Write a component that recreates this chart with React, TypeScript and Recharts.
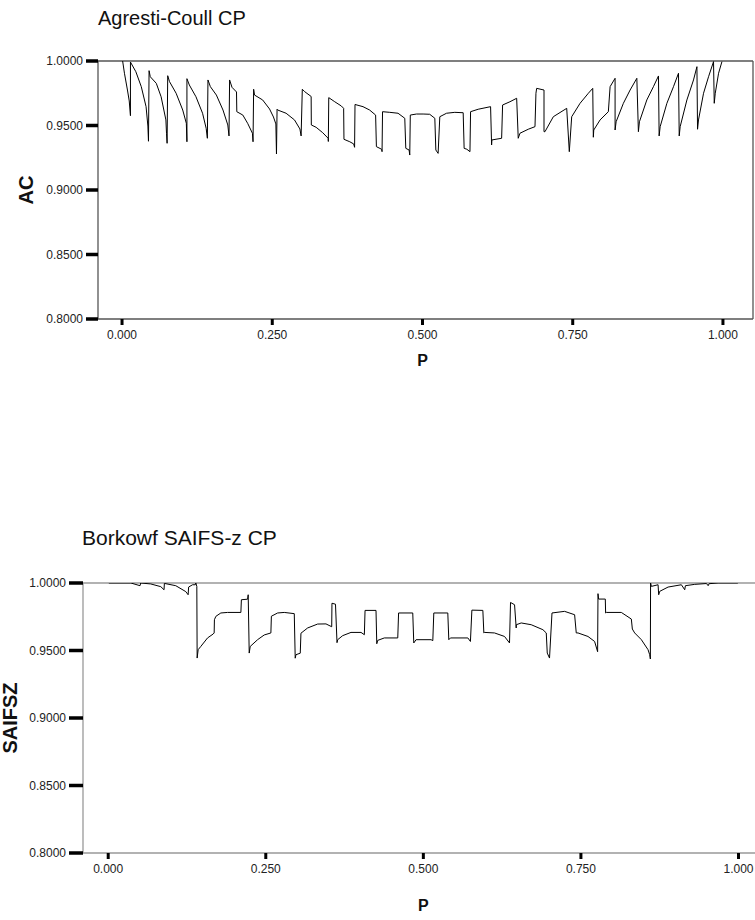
import React from 'react';
import { LineChart, Line, XAxis, YAxis, ReferenceLine } from 'recharts';

const P_TICKS = [0, 0.25, 0.5, 0.75, 1];
const Y_TICKS = [0.8, 0.85, 0.9, 0.95, 1];
const X_DOMAIN: [number, number] = [-0.04, 1.05];
const Y_DOMAIN: [number, number] = [0.8, 1];

// Agresti-Coull coverage probability
const AC_P = [
  0.001, 0.004, 0.009, 0.012, 0.014,
  0.014, 0.023, 0.032, 0.040, 0.043, 0.044,
  0.045, 0.047, 0.057, 0.065, 0.073, 0.074, 0.075,
  0.076, 0.079, 0.090, 0.101, 0.107, 0.108,
  0.108, 0.112, 0.123, 0.134, 0.140, 0.142,
  0.143, 0.147, 0.157, 0.168, 0.176, 0.178,
  0.179, 0.183, 0.1905, 0.191, 0.201, 0.209, 0.217, 0.218,
  0.219, 0.2205, 0.234, 0.2455, 0.252, 0.256, 0.257,
  0.258, 0.259, 0.273, 0.287, 0.296, 0.298,
  0.300, 0.304, 0.3147, 0.315, 0.323, 0.334, 0.343, 0.3433,
  0.344, 0.354, 0.365, 0.3688, 0.3693, 0.379, 0.3855, 0.387,
  0.3877, 0.401, 0.412, 0.422, 0.4233, 0.432, 0.4327,
  0.4335, 0.4455, 0.4593, 0.4705, 0.4722, 0.4777, 0.4788,
  0.4797, 0.490, 0.501, 0.512, 0.5205, 0.5222, 0.526,
  0.5288, 0.540, 0.5538, 0.5677, 0.5693, 0.5738, 0.579,
  0.580, 0.5927, 0.6133, 0.615, 0.6155, 0.6317,
  0.6333, 0.6455, 0.6567, 0.6593, 0.6622, 0.676, 0.6872,
  0.6888, 0.690, 0.7022, 0.7022, 0.7038, 0.7177, 0.740, 0.7443,
  0.7483, 0.7622, 0.776, 0.7833, 0.7843, 0.785, 0.7955, 0.8093,
  0.8122, 0.8205, 0.8205, 0.8222, 0.8343, 0.8455, 0.8567,
  0.8593, 0.861, 0.8733, 0.8843, 0.8927,
  0.8938, 0.8955, 0.9067, 0.9177, 0.926,
  0.9272, 0.9288, 0.940, 0.951, 0.9567,
  0.9577, 0.9593, 0.9677, 0.976, 0.9843,
  0.9855, 0.9872, 0.9927, 0.9983,
];
const AC_VALUE = [
  1.0, 0.9905, 0.9775, 0.969, 0.9576,
  0.9992, 0.9917, 0.9801, 0.9646, 0.9496, 0.9378,
  0.9925, 0.9878, 0.9827, 0.9723, 0.9543, 0.944, 0.9362,
  0.9886, 0.984, 0.975, 0.962, 0.9517, 0.9374,
  0.9863, 0.9814, 0.9723, 0.9595, 0.9478, 0.9401,
  0.9853, 0.9801, 0.9736, 0.962, 0.9504, 0.9419,
  0.9853, 0.9796, 0.976, 0.9607, 0.9581, 0.9517, 0.944, 0.9374,
  0.9781, 0.9736, 0.9698, 0.9628, 0.9566, 0.9512, 0.9279,
  0.9626, 0.962, 0.9595, 0.9543, 0.9473, 0.9419,
  0.9781, 0.9762, 0.9725, 0.9504, 0.9486, 0.9444, 0.9401, 0.9376,
  0.9716, 0.9684, 0.9651, 0.9633, 0.9393, 0.9374, 0.9357, 0.9331,
  0.9663, 0.9646, 0.962, 0.9581, 0.9336, 0.9316, 0.9297,
  0.9607, 0.9602, 0.9595, 0.9556, 0.9323, 0.931, 0.9271,
  0.9581, 0.9589, 0.9589, 0.9587, 0.9556, 0.931, 0.9284,
  0.9568, 0.9595, 0.9602, 0.9599, 0.9323, 0.9316, 0.9297,
  0.9607, 0.9626, 0.9646, 0.9349, 0.9388, 0.9401,
  0.9659, 0.9684, 0.9711, 0.9401, 0.944, 0.9471, 0.9491,
  0.975, 0.9788, 0.9775, 0.9452, 0.9452, 0.9568, 0.9633, 0.9297,
  0.9568, 0.9672, 0.975, 0.9788, 0.9409, 0.9465, 0.9543, 0.9607,
  0.9801, 0.9866, 0.9465, 0.9529, 0.9672, 0.9775, 0.9866,
  0.9452, 0.9529, 0.9698, 0.9801, 0.9884,
  0.9419, 0.9491, 0.9672, 0.9801, 0.9905,
  0.9419, 0.9491, 0.9698, 0.9853, 0.9956,
  0.9471, 0.9543, 0.975, 0.9878, 0.9995,
  0.9672, 0.975, 0.9905, 0.9995,
];

// Borkowf SAIFS-z coverage probability
const SAIFSZ_P = [
  0.001, 0.036, 0.0505, 0.0516, 0.0675, 0.0834, 0.0886, 0.0891,
  0.1072, 0.1231, 0.1268, 0.1276, 0.1338, 0.1382, 0.139, 0.1406,
  0.1411, 0.1427, 0.1469, 0.1576, 0.1665, 0.1681,
  0.1685, 0.1708, 0.1787, 0.1894, 0.2105,
  0.2113, 0.2211, 0.2221,
  0.2237, 0.2253, 0.237, 0.2475, 0.2581,
  0.2589, 0.2688, 0.2793, 0.2952,
  0.2967, 0.2979, 0.3047,
  0.3058, 0.3164, 0.3323, 0.3455, 0.3546, 0.355, 0.3606,
  0.363, 0.3641, 0.372, 0.3852, 0.4011, 0.4064,
  0.4075, 0.4249,
  0.4261, 0.4276, 0.4381, 0.4594,
  0.4607, 0.4832,
  0.4848, 0.4885, 0.5123, 0.515,
  0.5166, 0.5388,
  0.5404, 0.543, 0.5706, 0.5747,
  0.577, 0.5944,
  0.596, 0.597, 0.6129, 0.6288, 0.6367,
  0.6383, 0.6447, 0.6473, 0.6475, 0.6553, 0.6711, 0.6897, 0.695,
  0.6966, 0.7002,
  0.7041, 0.7241, 0.74,
  0.7426, 0.7454, 0.7612, 0.7717, 0.7765,
  0.7771, 0.7781, 0.7887,
  0.7892, 0.7903, 0.8141, 0.83, 0.8316, 0.8353, 0.8459, 0.8565, 0.8591, 0.8602,
  0.8605, 0.8618, 0.8724, 0.8734, 0.875, 0.8883, 0.9094, 0.9147,
  0.9158, 0.9306, 0.9492, 0.9519, 0.9534, 0.9677, 0.999,
];
const SAIFSZ_VALUE = [
  1.0, 1.0, 0.998, 1.0, 0.9993, 0.9973, 0.995, 0.9997,
  0.998, 0.9936, 0.9913, 0.997, 0.9987, 0.9987, 1.0, 0.9975,
  0.9444, 0.9506, 0.953, 0.9593, 0.9622, 0.963,
  0.9728, 0.9753, 0.9778, 0.9782, 0.9782,
  0.9876, 0.988, 0.9913,
  0.9481, 0.953, 0.958, 0.9615, 0.963,
  0.9754, 0.9778, 0.9782, 0.9773,
  0.9443, 0.9469, 0.948,
  0.9628, 0.9667, 0.9696, 0.9697, 0.9676, 0.985, 0.9843,
  0.9558, 0.958, 0.961, 0.9634, 0.9634, 0.9617,
  0.9797, 0.9797,
  0.955, 0.9575, 0.9593, 0.9593,
  0.9778, 0.9778,
  0.9556, 0.958, 0.958, 0.9573,
  0.9778, 0.9778,
  0.958, 0.9593, 0.9593, 0.9567,
  0.9799, 0.9797,
  0.963, 0.9634, 0.963, 0.9604, 0.9556,
  0.9856, 0.9839, 0.9667, 0.9691, 0.9704, 0.9691, 0.9654, 0.963,
  0.9481, 0.9444,
  0.9778, 0.979, 0.9765,
  0.963, 0.963, 0.9604, 0.9567, 0.9491,
  0.9921, 0.9881, 0.9881,
  0.9778, 0.9782, 0.9782, 0.9733, 0.9659, 0.963, 0.958, 0.9506, 0.9469, 0.9437,
  1.0, 0.9975, 0.9987, 0.9913, 0.9938, 0.997, 0.9987, 0.995,
  0.998, 0.999, 0.9996, 0.998, 0.9995, 1.0, 1.0,
];

const zip = (ps: number[], vs: number[]) => ps.map((p, i) => ({ p, v: vs[i] }));

const FONT = '"Liberation Sans", Arial, Helvetica, sans-serif';

type PanelProps = {
  data: { p: number; v: number }[];
  top: number;
  width: number;
  plotLeft: number;
  plotTop: number;
  plotHeight: number;
  axisColor: string;
  yLabel: string;
  yLabelX: number;
  xLabelBaseline: number;
  title: string;
  titleLeft: number;
  titleBaseline: number;
  titleSize: number;
  yTickSize: number;
};

function Panel(props: PanelProps) {
  const {
    data, top, width, plotLeft, plotTop, plotHeight, axisColor, yLabel, yLabelX,
    xLabelBaseline, title, titleLeft, titleBaseline, titleSize, yTickSize,
  } = props;
  const xAxisHeight = 66;
  const height = plotTop + plotHeight + xAxisHeight;
  return (
    <div style={{ position: 'absolute', left: 0, top, width, height }}>
      <div
        style={{
          position: 'absolute',
          left: titleLeft,
          top: titleBaseline - Math.round(titleSize * 0.85),
          fontFamily: FONT,
          fontSize: titleSize,
          lineHeight: `${titleSize}px`,
          color: '#111',
          whiteSpace: 'nowrap',
        }}
      >
        {title}
      </div>
      <LineChart
        width={width}
        height={height}
        data={data}
        margin={{ top: plotTop, right: 2, left: 0, bottom: 0 }}
        style={{ fontFamily: FONT }}
      >
        <XAxis
          dataKey="p"
          type="number"
          domain={X_DOMAIN}
          allowDataOverflow
          ticks={P_TICKS}
          tickFormatter={(t: number) => t.toFixed(3)}
          height={xAxisHeight}
          axisLine={{ stroke: axisColor, strokeWidth: 1.3 }}
          tickLine={{ stroke: '#000', strokeWidth: 3 }}
          tickSize={6}
          tickMargin={5}
          tick={{ fontSize: 12, fill: '#222' }}
          label={(lp: any) => {
            const vb = lp.viewBox || {};
            const cx = vb.x + ((0.5 - X_DOMAIN[0]) / (X_DOMAIN[1] - X_DOMAIN[0])) * vb.width;
            return (
              <text x={cx} y={vb.y + xLabelBaseline} textAnchor="middle" fontWeight="bold" fontSize={16} fill="#111" fontFamily={FONT}>
                P
              </text>
            );
          }}
        />
        <YAxis
          dataKey="v"
          type="number"
          domain={Y_DOMAIN}
          allowDataOverflow
          ticks={Y_TICKS}
          tickFormatter={(t: number) => t.toFixed(4)}
          width={plotLeft}
          axisLine={{ stroke: axisColor, strokeWidth: 1.3 }}
          tickLine={{ stroke: '#000', strokeWidth: 3.5 }}
          tickSize={yTickSize}
          tickMargin={3}
          tick={{ fontSize: 12, fill: '#222' }}
          label={(lp: any) => {
            const vb = lp.viewBox || {};
            const cx = vb.x + yLabelX;
            const cy = vb.y + vb.height / 2;
            return (
              <text
                x={cx}
                y={cy}
                transform={`rotate(-90 ${cx} ${cy})`}
                textAnchor="middle"
                dominantBaseline="central"
                fontWeight="bold"
                fontSize={20}
                fill="#111"
                fontFamily={FONT}
              >
                {yLabel}
              </text>
            );
          }}
        />
        <ReferenceLine y={1} stroke={axisColor} strokeWidth={1.3} />
        <ReferenceLine x={X_DOMAIN[1]} stroke={axisColor} strokeWidth={1.3} />
        <Line
          dataKey="v"
          type="linear"
          stroke="#000"
          strokeWidth={1}
          dot={false}
          activeDot={false}
          isAnimationActive={false}
        />
      </LineChart>
    </div>
  );
}

export default function App() {
  return (
    <div style={{ position: 'absolute', left: 0, top: 0, width: 755, height: 920, overflow: 'hidden', background: '#fff' }}>
      <Panel
        data={zip(AC_P, AC_VALUE)}
        top={0}
        width={755}
        plotLeft={98}
        plotTop={61}
        plotHeight={258}
        axisColor="#555"
        yLabel="AC"
        yLabelX={26}
        xLabelBaseline={47}
        title="Agresti-Coull CP"
        titleLeft={98}
        titleBaseline={25}
        titleSize={20}
        yTickSize={12}
      />
      <Panel
        data={zip(SAIFSZ_P, SAIFSZ_VALUE)}
        top={500}
        width={772}
        plotLeft={83}
        plotTop={83}
        plotHeight={270}
        axisColor="#999"
        yLabel="SAIFSZ"
        yLabelX={10}
        xLabelBaseline={58}
        title="Borkowf SAIFS-z CP"
        titleLeft={82}
        titleBaseline={45}
        titleSize={21}
        yTickSize={14}
      />
    </div>
  );
}
